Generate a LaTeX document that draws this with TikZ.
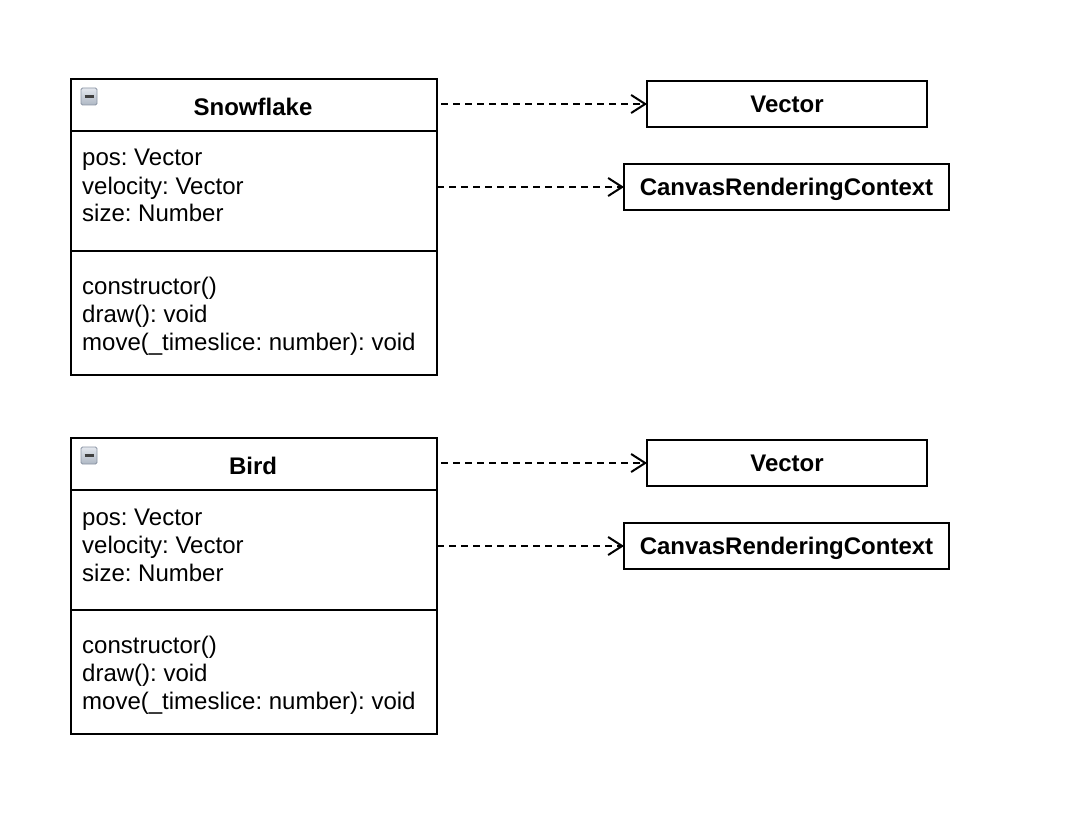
\documentclass[tikz,border=0pt]{standalone}
\usepackage{fontspec}
\setmainfont{Liberation Sans}
\usetikzlibrary{arrows.meta}
\definecolor{icontop}{HTML}{E4E8EE}
\definecolor{iconbot}{HTML}{AEB7C4}
\definecolor{iconrim}{HTML}{8A94A3}
\begin{document}
\frenchspacing
\begin{tikzpicture}[x=1pt,y=-1pt,
  box/.style={draw, line width=2pt, inner sep=0pt, outer sep=0pt, anchor=north west},
  sep/.style={line width=2pt},
  title/.style={font=\fontsize{24}{28}\selectfont\bfseries, inner sep=0pt, anchor=base},
  member/.style={font=\fontsize{24}{28}\selectfont, inner sep=0pt, anchor=base west},
  dep/.style={line width=2pt, dash pattern=on 7pt off 5pt, -{Straight Barb[length=14pt,width=18pt,line width=2pt]}},
  icon/.style={draw=iconrim, rounded corners=1.5pt, top color=icontop, bottom color=iconbot, line width=0.8pt}
]
\useasboundingbox (0,0) rectangle (1074,824);

% ---------- Snowflake ----------
\node[box, minimum width=366pt, minimum height=296pt] (sf) at (71,79) {};
\draw[sep] (71,131) -- (437,131);
\draw[sep] (71,251) -- (437,251);
\draw[icon] (81,88) rectangle (97,105);
\draw[line width=2.2pt, black!75] (84.5,96.5) -- (93.5,96.5);
\node[title] (sftitle) at (253,115.5) {Snowflake};
\node[member] (sfa1) at (82,166) {pos: Vector};
\node[member] (sfa2) at (82,194) {velocity: Vector};
\node[member] (sfa3) at (82,222) {size: Number};
\node[member] (sfm1) at (82,294) {constructor()};
\node[member] (sfm2) at (82,322) {draw(): void};
\node[member] (sfm3) at (82,350) {move(\_timeslice: number): void};

\node[box, minimum width=280pt, minimum height=46pt] (vec1) at (647,81) {};
\node[title] (vec1t) at (787,112.5) {Vector};
\node[box, minimum width=325pt, minimum height=46pt] (cv1) at (624,164) {};
\node[title] (cv1t) at (786.5,195.5) {CanvasRenderingContext};

\coordinate (s1) at (441,104);
\coordinate (s2) at (437,187);
\draw[dep] (s1) -- (vec1.west);
\draw[dep] (s2) -- (cv1.west);

% ---------- Bird ----------
\node[box, minimum width=366pt, minimum height=296pt] (bd) at (71,438) {};
\draw[sep] (71,490) -- (437,490);
\draw[sep] (71,610) -- (437,610);
\draw[icon] (81,447) rectangle (97,464);
\draw[line width=2.2pt, black!75] (84.5,455.5) -- (93.5,455.5);
\node[title] (bdtitle) at (253,474.5) {Bird};
\node[member] (bda1) at (82,525) {pos: Vector};
\node[member] (bda2) at (82,553) {velocity: Vector};
\node[member] (bda3) at (82,581) {size: Number};
\node[member] (bdm1) at (82,653) {constructor()};
\node[member] (bdm2) at (82,681) {draw(): void};
\node[member] (bdm3) at (82,709) {move(\_timeslice: number): void};

\node[box, minimum width=280pt, minimum height=46pt] (vec2) at (647,440) {};
\node[title] (vec2t) at (787,471.5) {Vector};
\node[box, minimum width=325pt, minimum height=46pt] (cv2) at (624,523) {};
\node[title] (cv2t) at (786.5,554.5) {CanvasRenderingContext};

\coordinate (b1) at (441,463);
\coordinate (b2) at (437,546);
\draw[dep] (b1) -- (vec2.west);
\draw[dep] (b2) -- (cv2.west);
\end{tikzpicture}
\end{document}
